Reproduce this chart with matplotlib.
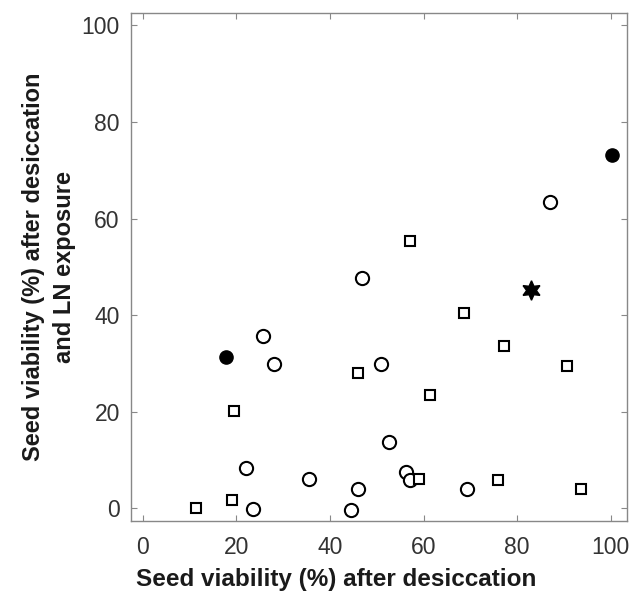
import numpy as np
import matplotlib.pyplot as plt

plt.rcParams['font.family'] = ['Liberation Sans', 'DejaVu Sans']

# open circles
circ_x = [86.9, 46.9, 25.6, 28.1, 50.9, 52.6, 22.1, 35.5, 56.3, 57.0, 45.9, 69.2, 23.6, 44.4]
circ_y = [63.5, 47.6, 35.7, 29.8, 29.8, 13.7, 8.3, 6.1, 7.4, 5.9, 3.9, 3.9, -0.1, -0.4]

# open squares
sq_x = [57.0, 68.7, 77.1, 46.0, 90.7, 61.4, 19.6, 59.1, 75.9, 93.7, 19.0, 11.4]
sq_y = [55.3, 40.4, 33.5, 27.9, 29.5, 23.5, 20.2, 6.0, 5.9, 3.9, 1.7, 0.0]

# filled circles
fill_x = [100.2, 17.9]
fill_y = [73.1, 31.4]

# star
star_x = [83.0]
star_y = [45.2]

fig = plt.figure(figsize=(6.34, 5.99), dpi=100)
ax = fig.add_axes([0.2066, 0.1307, 0.782, 0.847])

ax.plot(circ_x, circ_y, 'o', ms=9.5, mfc='white', mec='black', mew=1.5, ls='none')
ax.plot(sq_x, sq_y, 's', ms=7.5, mfc='white', mec='black', mew=1.5, ls='none')
ax.plot(fill_x, fill_y, 'o', ms=9.5, mfc='black', mec='black', ls='none')
ax.plot(star_x, star_y, marker=(6, 1, 0), ms=14, mfc='black', mec='black', ls='none')

ax.set_xlim(-2.5, 103.4)
ax.set_ylim(-2.6, 102.5)
ax.set_xticks(np.arange(0, 101, 20))
ax.set_yticks(np.arange(0, 101, 20))

for s in ax.spines.values():
    s.set_color('#888888')
    s.set_linewidth(1.0)

ax.tick_params(direction='in', length=4, width=0.8, color='#888888',
               top=True, right=True, labelsize=16.5, labelcolor='#333333')
ax.tick_params(axis='x', pad=11)
ax.tick_params(axis='y', pad=8)

ax.set_xlabel('Seed viability (%) after desiccation', fontsize=17.5,
              fontweight='bold', color='#1a1a1a')
# label in the original sits left of the axes centre
ax.xaxis.set_label_coords(0.413, -0.094)
ax.set_ylabel('Seed viability (%) after desiccation\nand LN exposure', fontsize=17,
              fontweight='bold', color='#1a1a1a', labelpad=4, linespacing=1.45)

fig.savefig('out.png', dpi=100)
